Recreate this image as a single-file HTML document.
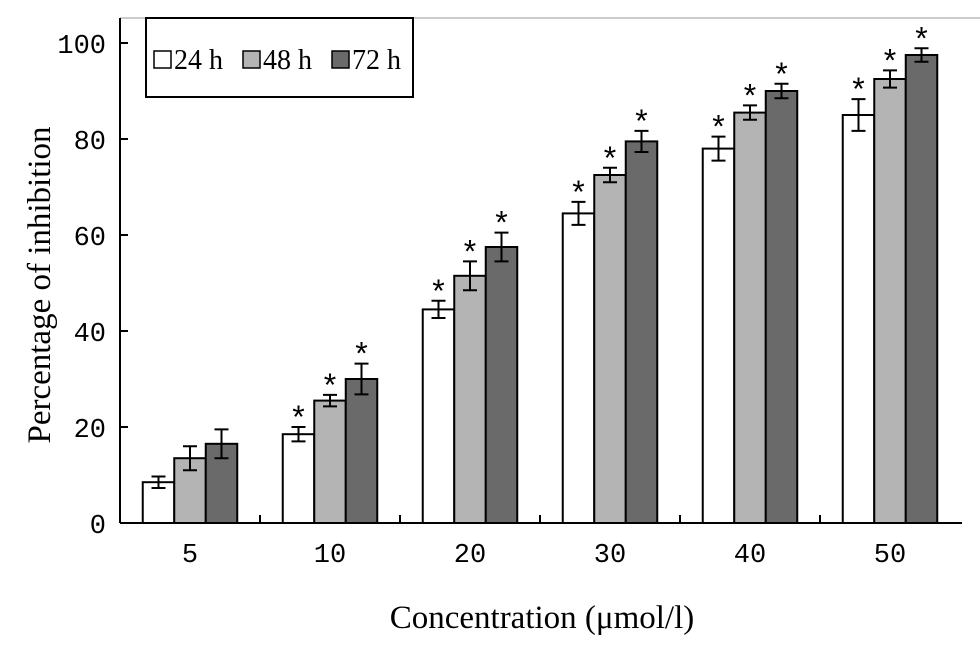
<!DOCTYPE html>
<html><head><meta charset="utf-8"><style>
body{margin:0;background:#fff}
svg{display:block;font-family:"Liberation Serif",serif}
</style></head><body>
<svg id="chart" width="980" height="654">
<line x1="120" y1="18" x2="980" y2="18" stroke="#999" stroke-width="1"/>
<g id="bars"></g>
<line x1="120" y1="18" x2="120" y2="523" stroke="#000" stroke-width="2"/>
<line x1="120" y1="523" x2="962" y2="523" stroke="#000" stroke-width="2"/>
<g id="axes"></g>
<text x="0" y="0" transform="translate(50,285) rotate(-90)" text-anchor="middle" font-size="33">Percentage of inhibition</text>
<text x="542" y="628" text-anchor="middle" font-size="33">Concentration (μmol/l)</text>
<g>
<rect x="146" y="18" width="267" height="79" fill="#fff" stroke="#000" stroke-width="2"/>
<rect x="154" y="51" width="17" height="17" fill="#fff" stroke="#000" stroke-width="1.5"/>
<text x="174" y="69" font-size="28">24 h</text>
<rect x="243" y="51" width="17" height="17" fill="#b4b4b4" stroke="#000" stroke-width="1.5"/>
<text x="263" y="69" font-size="28">48 h</text>
<rect x="332" y="51" width="17" height="17" fill="#6a6a6a" stroke="#000" stroke-width="1.5"/>
<text x="352" y="69" font-size="28">72 h</text>
</g>
</svg>
<script>
const categories=["5","10","20","30","40","50"];
const seriesNames=["24 h","48 h","72 h"];
const v24=[8.5,18.5,44.5,64.5,78,85];
const v48=[13.5,25.5,51.5,72.5,85.5,92.5];
const v72=[16.5,30,57.5,79.5,90,97.5];
const e24=[1.2,1.5,1.8,2.4,2.5,3.3];
const e48=[2.5,1.2,3,1.5,1.5,1.8];
const e72=[3,3.2,3,2.2,1.5,1.4];
const sig24=[false,true,true,true,true,true];
const sig48=[false,true,true,true,true,true];
const sig72=[false,true,true,true,true,true];
const yTicks=[0,20,40,60,80,100];
const NS="http://www.w3.org/2000/svg";
const y=v=>523-v*4.8;
const xc=i=>190+i*140;
const colors=["#fff","#b4b4b4","#6a6a6a"];
const vals=[v24,v48,v72],errs=[e24,e48,e72],sigs=[sig24,sig48,sig72];
const bars=document.getElementById('bars'),axes=document.getElementById('axes');
function mk(tag,attrs,parent){const e=document.createElementNS(NS,tag);for(const k in attrs)e.setAttribute(k,attrs[k]);parent.appendChild(e);return e;}
const bw=31.5;
categories.forEach((c,i)=>{
  for(let s=0;s<3;s++){
    const x0=xc(i)-1.5*bw+s*bw, v=vals[s][i], e=errs[s][i];
    const r=mk('rect',{x:x0,y:y(v),width:bw,height:523-y(v),fill:colors[s],stroke:'#000','stroke-width':2},bars);
    
    
    const cx=x0+bw/2;
    const g=mk('path',{d:`M${cx},${y(v+e)}V${y(v-e)}M${cx-7},${y(v+e)}H${cx+7}M${cx-7},${y(v-e)}H${cx+7}`,stroke:'#000','stroke-width':2,fill:'none'},bars);
    
    
    if(sigs[s][i]){
      const t=mk('text',{x:cx,y:y(v+e)+1,'text-anchor':'middle','font-size':32,'font-family':'Liberation Sans, sans-serif'},bars);
      t.textContent='*';
      
      
    }
  }
  const t=mk('text',{x:xc(i),y:562,'text-anchor':'middle','font-size':27,'font-family':'Liberation Mono, monospace'},axes);
  t.textContent=c;
  
  
  if(i<categories.length-1){
    const tk=mk('line',{x1:xc(i)+70,x2:xc(i)+70,y1:523,y2:515,stroke:'#000','stroke-width':2},axes);
    
    
  }
});
yTicks.forEach(v=>{
  const tk=mk('line',{x1:120,x2:128,y1:y(v),y2:y(v),stroke:'#000','stroke-width':2},axes);
  
  
  const t=mk('text',{x:106,y:y(v)+10,'text-anchor':'end','font-size':27,'font-family':'Liberation Mono, monospace'},axes);
  t.textContent=v;
  
  
});
</script>
</body></html>
